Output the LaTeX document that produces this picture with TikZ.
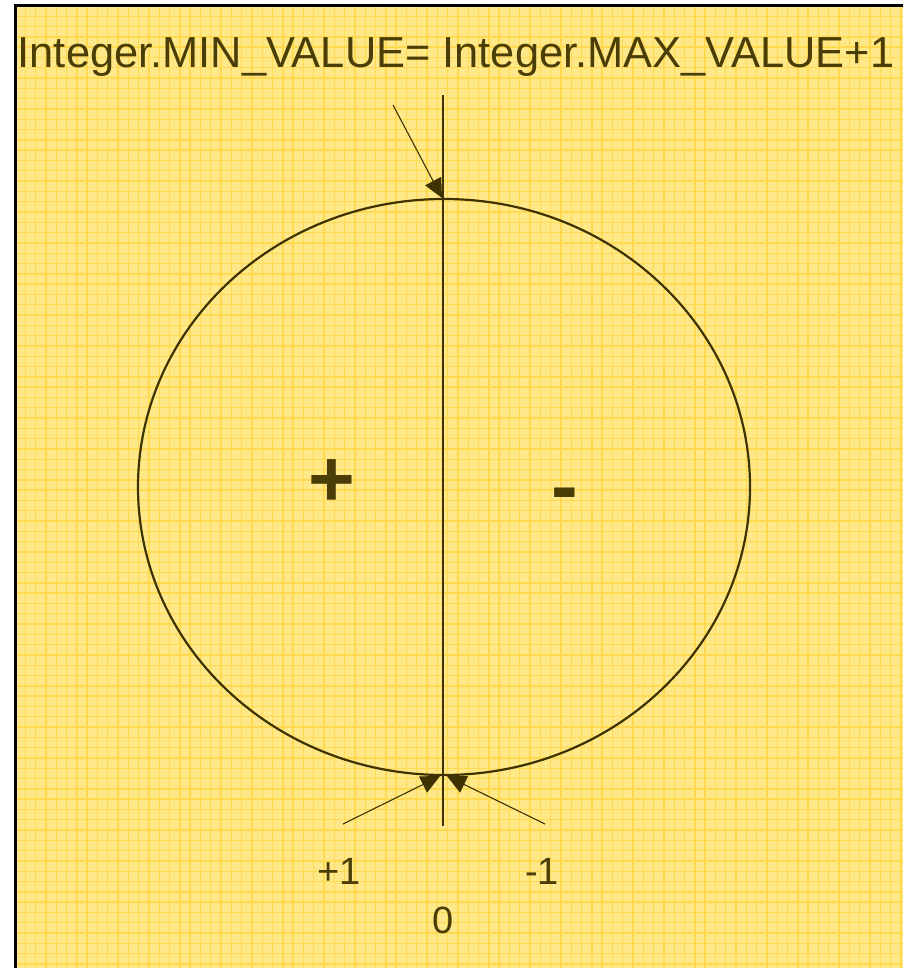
\documentclass[tikz,border=0pt]{standalone}
\usepackage{fontspec}
\setmainfont{Liberation Sans}
\usetikzlibrary{arrows.meta,shapes.geometric}
\definecolor{bg}{HTML}{FFE88A}
\definecolor{gridc}{HTML}{FFD94F}
\definecolor{ink}{HTML}{3E3300}
\definecolor{txt}{HTML}{4A3D05}
\tikzset{
  lbl/.style={font=\fontsize{38}{46}\selectfont, text=txt, anchor=base, inner sep=0},
  ttl/.style={font=\fontsize{43.4}{52}\selectfont, text=txt, anchor=base, inner sep=0},
  sign/.style={font=\fontsize{80}{96}\selectfont\bfseries, text=txt, inner sep=0},
  pointer/.style={draw=ink, line width=1.1, -{Triangle[length=19pt,width=18pt]}},
}
\begin{document}
\begin{tikzpicture}[x=1pt,y=-1pt]
\useasboundingbox (0,0) rectangle (903,968);
\fill[white] (0,0) rectangle (903,968);
\fill[bg] (15,6) rectangle (903,968);
\foreach \i in {0,...,86} {
  \draw[gridc, line width=1.4] (15+\i*10.3,6) -- (15+\i*10.3,968);
}
\foreach \i in {0,...,93} {
  \draw[gridc, line width=1.4] (15,6+\i*10.3) -- (903,6+\i*10.3);
}
\draw[black, line width=3] (15,968) -- (15,6) -- (903,6);

\node[ttl] (title) at (456,68) {Integer.MIN\_VALUE= Integer.MAX\_VALUE+1};

\node[draw=ink, line width=2.2, ellipse, minimum width=612, minimum height=576, inner sep=0] (circ) at (444,487) {};

\coordinate (top) at (443,95);
\coordinate (bot) at (443,826);
\draw[ink, line width=2] (top) -- (bot);

\coordinate (a1) at (393,105);
\coordinate (a2) at (343,824);
\coordinate (a3) at (545,824);
\draw[pointer] (a1) -- ([xshift=-2]circ.north);
\draw[pointer] (a2) -- ([xshift=-4]circ.south);
\draw[pointer] (a3) -- ([xshift=3]circ.south);

\node[sign] (plus) at (332,483) {+};
\node[sign] (minus) at (565,501) {-};

\node[lbl] (p1) at (339,884) {+1};
\node[lbl] (m1) at (542,884) {-1};
\node[lbl] (zero) at (443,933) {0};
\end{tikzpicture}
\end{document}
